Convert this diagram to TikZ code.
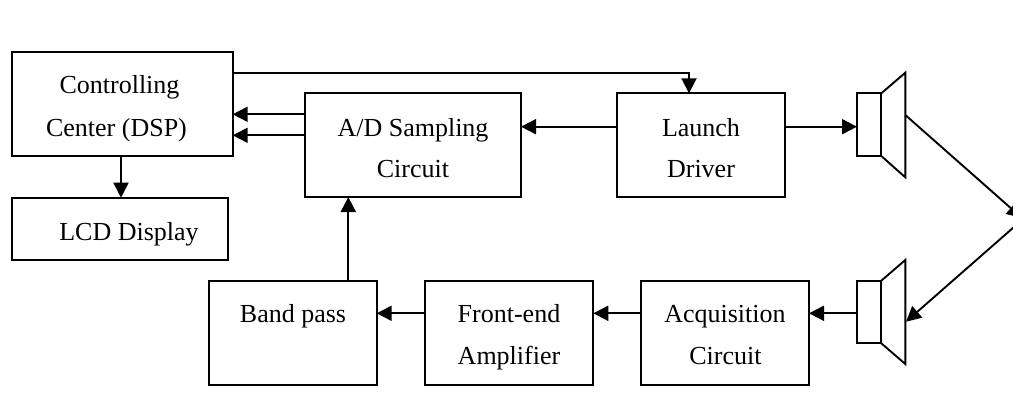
\documentclass[tikz,border=0pt]{standalone}
\usepackage{fontspec}
\setmainfont{Liberation Serif}
\usetikzlibrary{arrows.meta,calc}
\tikzset{
  x=1pt,y=-1pt,
  blockbox/.style 2 args={draw=black,line width=1.9pt,minimum width=#1,minimum height=#2,inner sep=0pt,outer sep=0pt,anchor=north west},
  lbl/.style={font=\fontsize{26}{30}\selectfont,anchor=base,inner sep=0pt,text=black},
  conn/.style={draw=black,line width=1.9pt,-{Triangle[length=15pt,width=15pt]}},
  plainline/.style={draw=black,line width=1.9pt,line join=miter},
}
\begin{document}
\begin{tikzpicture}
\useasboundingbox (0,0) rectangle (1013,420);
\clip (0,0) rectangle (1013,420);
% boxes
\node[blockbox={220.7pt}{103.7pt}] (ctrl) at (12,52) {};
\node[blockbox={216.3pt}{62.3pt}] (lcd) at (12,197.7) {};
\node[blockbox={216.3pt}{103.7pt}] (ad) at (304.7,93.3) {};
\node[blockbox={168.6pt}{103.7pt}] (launch) at (616.7,93.3) {};
\node[blockbox={168pt}{103.7pt}] (band) at (208.7,281) {};
\node[blockbox={168pt}{103.7pt}] (front) at (425.3,281) {};
\node[blockbox={168pt}{103.7pt}] (acq) at (641,281) {};
% speakers
\node[blockbox={24.3pt}{62.7pt}] (spkA) at (857,93.3) {};
\node[blockbox={24.3pt}{62.6pt}] (spkB) at (857,280.7) {};
\coordinate (spkAm) at (905.3,115);
\coordinate (spkBm) at (906,321.7);
\draw[plainline] (spkA.north east) -- (905.3,72.7) -- (905.3,177.3) -- (spkA.south east);
\draw[plainline] (spkB.north east) -- (905.3,260) -- (905.3,364) -- (spkB.south east);
% labels
\node[lbl] (t1) at (119.5,94) {Controlling};
\node[lbl] (t2) at (116.5,136.5) {Center (DSP)};
\node[lbl] (t3) at (129,240) {LCD Display};
\node[lbl] (t4) at (413,136) {A/D Sampling};
\node[lbl] (t5) at (413,177) {Circuit};
\node[lbl] (t6) at (701,136) {Launch};
\node[lbl] (t7) at (701,177) {Driver};
\node[lbl] (t8) at (293,322) {Band pass};
\node[lbl] (t9) at (509,322) {Front-end};
\node[lbl] (t10) at (509,364) {Amplifier};
\node[lbl] (t11) at (725,322) {Acquisition};
\node[lbl] (t12) at (725.5,364) {Circuit};
% connectors
\coordinate (rxA) at (1022,218);
\coordinate (rxB) at (1022,220);
\draw[conn] (ctrl.east |- 0,72.7) -| (launch.north -| 689,0);
\draw[conn] (ad.west |- 0,114.3) -- (ctrl.east |- 0,114.3);
\draw[conn] (ad.west |- 0,135.3) -- (ctrl.east |- 0,135.3);
\draw[conn] (ctrl.south -| 121,0) -- (lcd.north -| 121,0);
\draw[conn] (band.north -| 348.3,0) -- (ad.south -| 348.3,0);
\draw[conn] (launch.west |- 0,126.7) -- (ad.east |- 0,126.7);
\draw[conn] (launch.east |- 0,126.7) -- (spkA.west |- 0,126.7);
\draw[conn] (spkB.west |- 0,313.3) -- (acq.east |- 0,313.3);
\draw[conn] (acq.west |- 0,313.3) -- (front.east |- 0,313.3);
\draw[conn] (front.west |- 0,313.3) -- (band.east |- 0,313.3);
\draw[conn] (spkAm) -- (rxA);
\draw[conn] (rxB) -- (spkBm);
\end{tikzpicture}
\end{document}
